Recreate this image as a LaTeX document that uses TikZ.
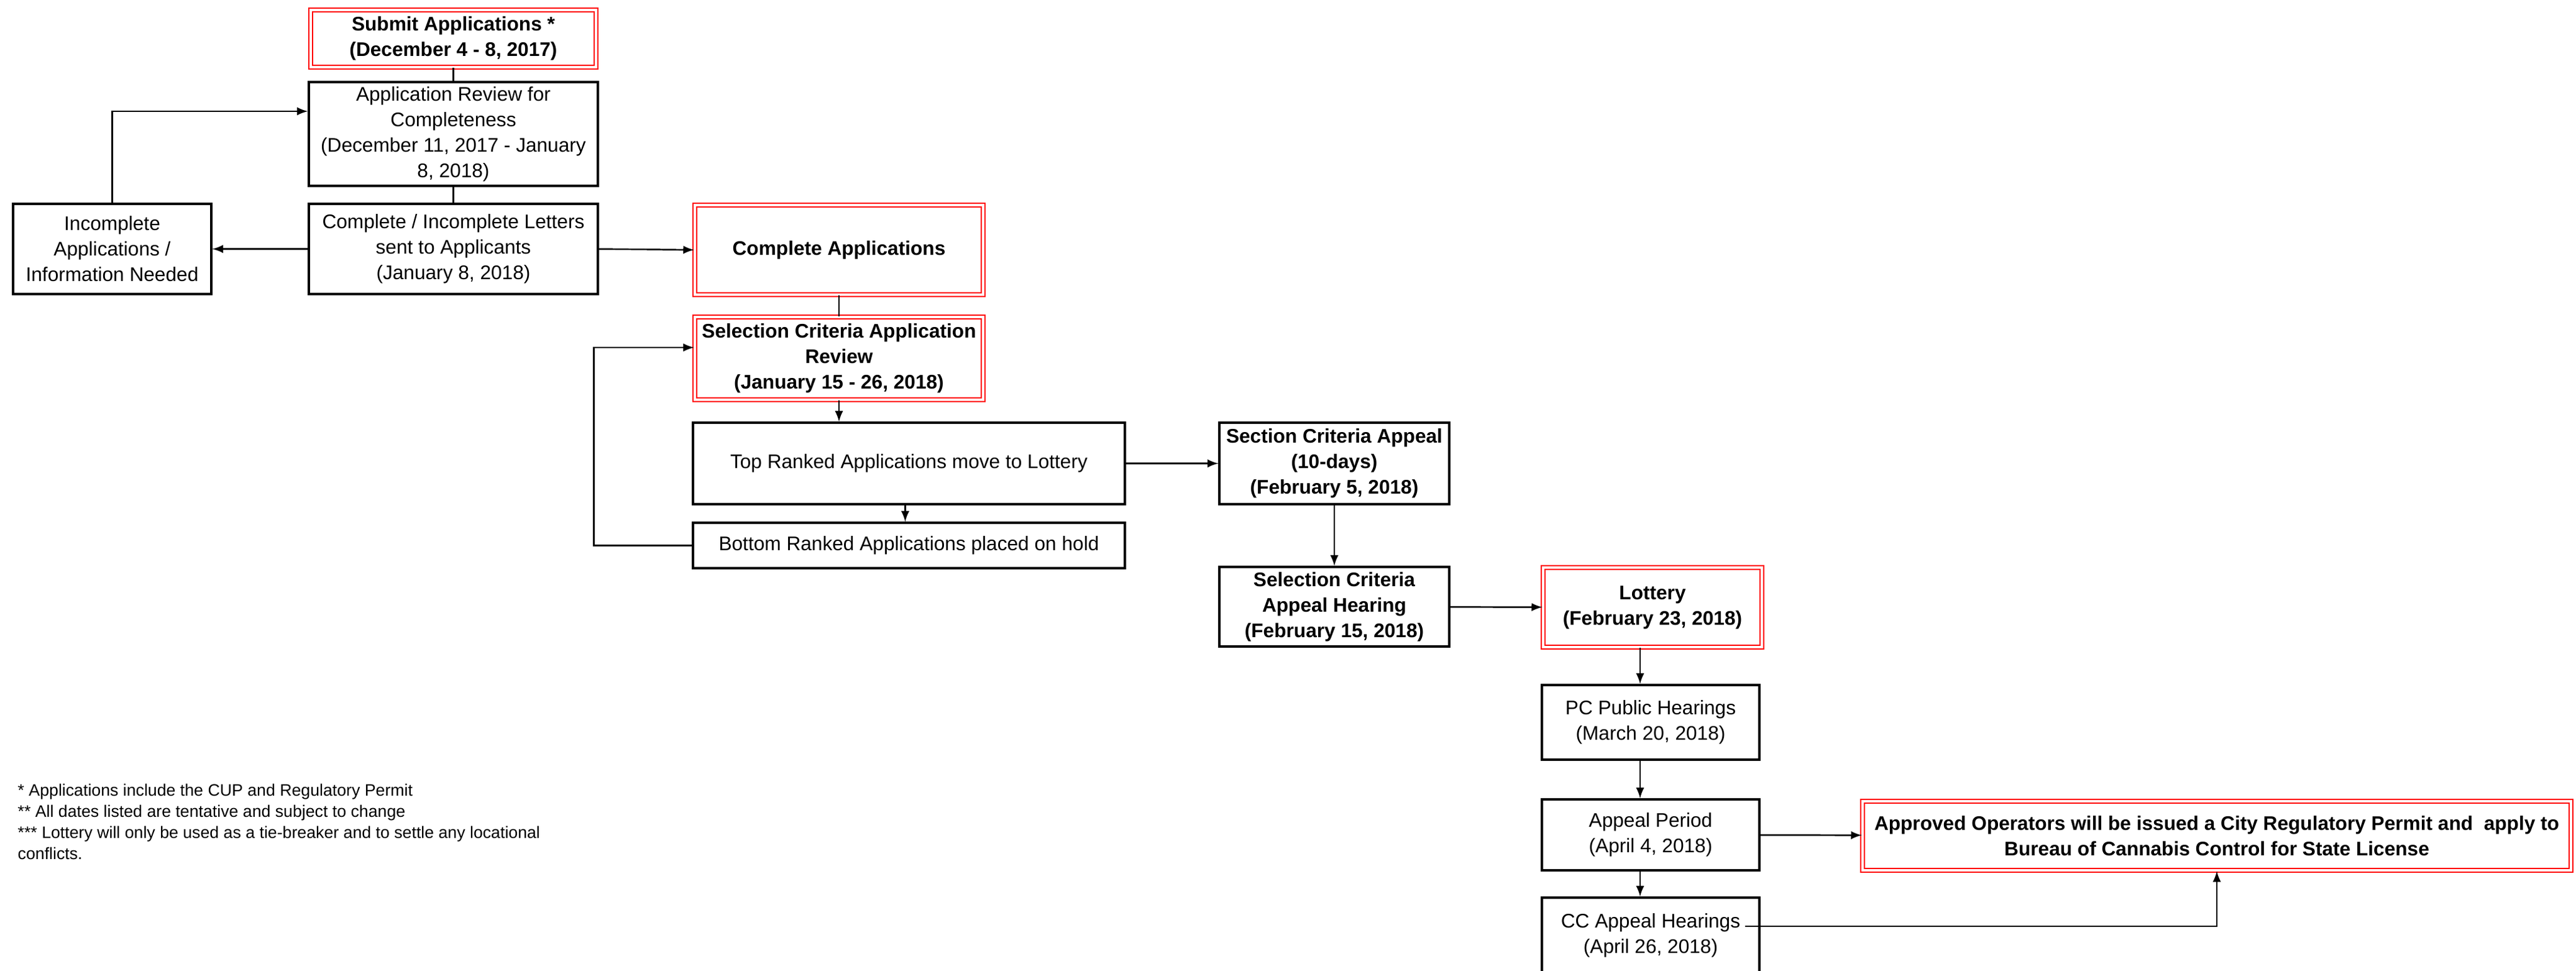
\documentclass[tikz,border=0pt]{standalone}
\usepackage{fontspec}
\setmainfont{Liberation Sans}

\begin{document}
\begin{tikzpicture}[
    stagebox/.style={draw, line width=0.95pt, align=center, inner sep=0pt,
        font=\fontsize{9}{11.7}\selectfont},
    boldbox/.style={stagebox, font=\fontsize{9}{11.7}\selectfont\bfseries},
    keybox/.style={boldbox, draw=red, double, double distance=0.9pt, line width=0.75pt},
    link/.style={line width=0.7pt}]

    \useasboundingbox (0,0) rectangle (41.45,-15.61);

    \node [keybox, minimum width=4.59cm, minimum height=0.92cm] (submit) at (7.295,-0.62)
        {Submit Applications *\\(December 4 - 8, 2017)};
    \node [stagebox, minimum width=4.65cm, minimum height=1.67cm] (review) at (7.295,-2.155)
        {Application Review for\\Completeness\\(December 11, 2017 - January\\8, 2018)};
    \node [stagebox, minimum width=4.65cm, minimum height=1.45cm] (letters) at (7.295,-4.005)
        {Complete / Incomplete Letters\\sent to Applicants\\(January 8, 2018)};
    \node [stagebox, minimum width=3.19cm, minimum height=1.45cm] (incomplete) at (1.805,-4.005)
        {Incomplete\\Applications /\\Information Needed};

    \draw [link] (submit) -- (review);
    \draw [link] (review) -- (letters);
    \draw [link, -latex] (letters) -- (incomplete);
    \draw [link, -latex] (incomplete.north) |- ([yshift=0.365cm]review.west);

    \node [keybox, minimum width=4.64cm, minimum height=1.44cm] (complete) at (13.50,-4.02)
        {Complete Applications};
    \node [keybox, minimum width=4.64cm, minimum height=1.33cm] (selcrit) at (13.50,-5.765)
        {Selection Criteria Application\\Review\\(January 15 - 26, 2018)};
    \node [stagebox, minimum width=6.95cm, minimum height=1.31cm] (top) at (14.625,-7.455)
        {Top Ranked Applications move to Lottery};
    \node [stagebox, minimum width=6.95cm, minimum height=0.73cm] (bottom) at (14.625,-8.775)
        {Bottom Ranked Applications placed on hold};

    \draw [link, -latex] (letters.east) -- (complete.west);
    \draw [link] (complete) -- (selcrit);
    \draw [link, -latex] (selcrit.south) -- (selcrit.south |- top.north);
    \draw [link, -latex] ([xshift=-0.06cm]top.south) -- ([xshift=-0.06cm]bottom.north);
    \draw [link, -latex] (bottom.west) -- ++(-1.58,0) |- ([yshift=0.175cm]selcrit.west);

    \node [boldbox, minimum width=3.70cm, minimum height=1.31cm] (section) at (21.47,-7.455)
        {Section Criteria Appeal\\(10-days)\\(February 5, 2018)};
    \node [boldbox, minimum width=3.70cm, minimum height=1.28cm] (hearing) at (21.47,-9.76)
        {Selection Criteria\\Appeal Hearing\\(February 15, 2018)};
    \node [keybox, minimum width=3.52cm, minimum height=1.28cm] (lottery) at (26.59,-9.77)
        {Lottery\\(February 23, 2018)};

    \draw [link, -latex] (top) -- (section);
    \draw [link, -latex] (section) -- (hearing);
    \draw [link, -latex] (hearing) -- (lottery);

    \node [stagebox, minimum width=3.50cm, minimum height=1.20cm] (pc) at (26.56,-11.62)
        {PC Public Hearings\\(March 20, 2018)};
    \node [stagebox, minimum width=3.50cm, minimum height=1.14cm] (appeal) at (26.56,-13.43)
        {Appeal Period\\(April 4, 2018)};
    \node [stagebox, minimum width=3.50cm, minimum height=1.22cm] (cc) at (26.56,-15.05)
        {CC Appeal Hearings\\(April 26, 2018)};
    \node [keybox, minimum width=11.40cm, minimum height=1.11cm] (approved) at (35.67,-13.445)
        {Approved Operators will be issued a City Regulatory Permit and\ \ apply to\\Bureau of Cannabis Control for State License};

    \draw [link, -latex] ([xshift=-0.2cm]lottery.south) -- ([xshift=-0.2cm]lottery.south |- pc.north);
    \draw [link, -latex] ([xshift=-0.17cm]pc.south) -- ([xshift=-0.17cm]appeal.north);
    \draw [link, -latex] ([xshift=-0.17cm]appeal.south) -- ([xshift=-0.17cm]cc.north);
    \draw [link, -latex] (appeal) -- (approved);
    \draw [link, -latex] ([xshift=-0.25cm,yshift=0.15cm]cc.east) -| (approved.south);

    \node [anchor=north west, align=left, inner sep=0pt,
        font=\fontsize{7.6}{9.7}\selectfont] (notes) at (0.28,-12.60)
        {* Applications include the CUP and Regulatory Permit\\
        ** All dates listed are tentative and subject to change\\
        *** Lottery will only be used as a tie-breaker and to settle any locational\\
        conflicts.};

\end{tikzpicture}
\end{document}
